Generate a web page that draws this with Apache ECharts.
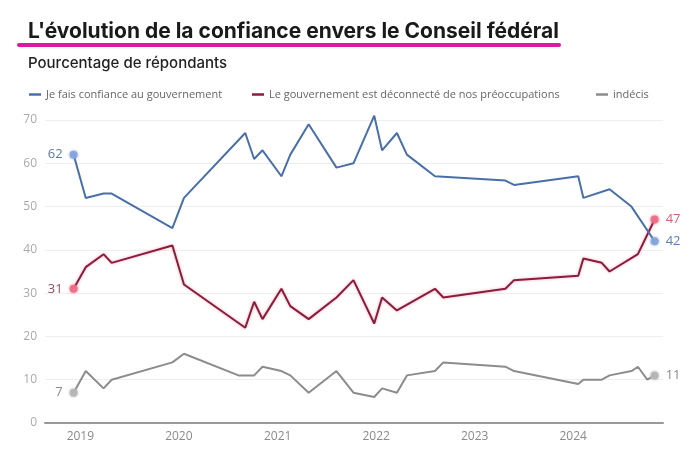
<!DOCTYPE html>
<html><head><meta charset="utf-8">
<script src="https://cdn.jsdelivr.net/npm/echarts@6/dist/echarts.min.js"></script>
<style>html,body{margin:0;padding:0;background:#fff}#c{width:700px;height:450px}</style>
</head><body><div id="c"></div>
<script>
const titleText = "L'évolution de la confiance envers le Conseil fédéral";
const subtitleText = "Pourcentage de répondants";
const seriesNames = ["Je fais confiance au gouvernement", "Le gouvernement est déconnecté de nos préoccupations", "indécis"];
const dates = ["2018-12-07","2019-01-21","2019-03-28","2019-04-27","2019-12-08","2020-01-20","2020-08-09","2020-09-03","2020-10-06","2020-11-06","2021-01-15","2021-02-17","2021-04-26","2021-08-07","2021-10-09","2021-12-25","2022-01-23","2022-03-19","2022-04-25","2022-08-07","2022-09-07","2023-04-25","2023-05-27","2024-01-20","2024-02-08","2024-04-16","2024-05-15","2024-08-04","2024-08-28","2024-10-02","2024-10-29"];
const trust        = [62,52,53,53,45,52,null,67,61,63,57,62,69,59,60,71,63,67,62,57,null,56,55,57,52,null,54,50,null,null,42];
const disconnected = [31,36,39,37,41,32,null,22,28,24,31,27,24,29,33,23,29,26,null,31,29,31,33,34,38,37,35,null,39,null,47];
const undecided    = [7,12,8,10,14,16,11,null,11,13,12,11,7,12,7,6,8,7,11,12,14,13,12,9,10,10,11,12,13,10,11];
const yMin = 0, yMax = 70, yStep = 10;

const lineColors = ["#4a6fa8", "#8a1c3e", "#8c8c8c"];
const dotColors = ["#86a3dc", "#ee6d86", "#b5b5b5"];
const startLabelColors = ["#4f6a92", "#8a3352", "#7a7a7a"];
const endLabelColors = ["#4f6fa6", "#d0506a", "#7a7a7a"];

function build(values, k) {
  let first = values.findIndex(v => v !== null);
  let last = values.length - 1 - [...values].reverse().findIndex(v => v !== null);
  return dates.map((d, i) => {
    const v = values[i];
    if (i === first || i === last) {
      return {
        value: [d, v],
        symbol: 'circle', symbolSize: 8,
        itemStyle: { color: dotColors[k], opacity: 0.9, shadowBlur: 3, shadowColor: dotColors[k] },
        label: { show: true, position: i === first ? 'left' : 'right', distance: 7,
                 color: i === first ? startLabelColors[k] : endLabelColors[k],
                 fontSize: 13, fontFamily: 'Open Sans', formatter: String(v) }
      };
    }
    return { value: [d, v], symbolSize: 0 };
  });
}

const chart = echarts.init(document.getElementById('c'), null, { renderer: 'canvas' });
const allValues = [trust, disconnected, undecided];
chart.setOption({
  animation: false,
  backgroundColor: '#fff',
  title: [
    { text: titleText, left: 23, top: 16,
      textStyle: { fontFamily: 'Inter', fontSize: 21, fontWeight: 'bold', color: '#1a1a1a' } },
    { text: subtitleText, left: 23, top: 51,
      textStyle: { fontFamily: 'Inter', fontSize: 15, fontWeight: 500, color: '#222' } }
  ],
  graphic: [
    { type: 'rect', left: 17, top: 43, shape: { width: 544, height: 4, r: 2 }, style: { fill: '#e0189c' } }
  ],
  legend: [0, 1, 2].map((k) => ({
    data: [seriesNames[k]], top: 84, left: [24, 247, 591][k],
    icon: 'rect', itemWidth: 12, itemHeight: 2.5, itemGap: 0,
    textStyle: { fontFamily: 'Open Sans', fontSize: 11, color: '#666' },
    selectedMode: false
  })),
  grid: { left: 45, right: 37, top: 120, bottom: 27, containLabel: false },
  xAxis: {
    type: 'time', min: '2018-08-23', max: '2024-11-29',
    minInterval: 365 * 86400000, maxInterval: 366 * 86400000,
    axisLine: { show: true, lineStyle: { color: '#999', width: 2 } },
    axisTick: { show: false },
    splitLine: { show: false },
    axisLabel: { formatter: '{yyyy}', color: '#8a8a8a', fontSize: 12, fontFamily: 'Open Sans', margin: 8,
                 showMinLabel: false, showMaxLabel: false }
  },
  yAxis: {
    type: 'value', min: yMin, max: yMax, interval: yStep,
    axisLine: { show: false }, axisTick: { show: false },
    axisLabel: { color: '#aaa', fontSize: 12, fontFamily: 'Open Sans', margin: 8 },
    splitLine: { lineStyle: { color: '#eeeeee', width: 1 } }
  },
  series: [0, 1, 2].map(k => ({
    name: seriesNames[k], type: 'line', data: build(allValues[k], k),
    connectNulls: true, showSymbol: true, showAllSymbol: true, clip: false,
    color: lineColors[k],
    lineStyle: { width: 2, color: lineColors[k],
                 shadowBlur: k === 1 ? 3 : 0, shadowColor: k === 1 ? 'rgba(235,90,120,0.5)' : 'transparent' },
    emphasis: { disabled: true },
    z: [3, 2, 1][k]
  }))
});
</script>
</body></html>
